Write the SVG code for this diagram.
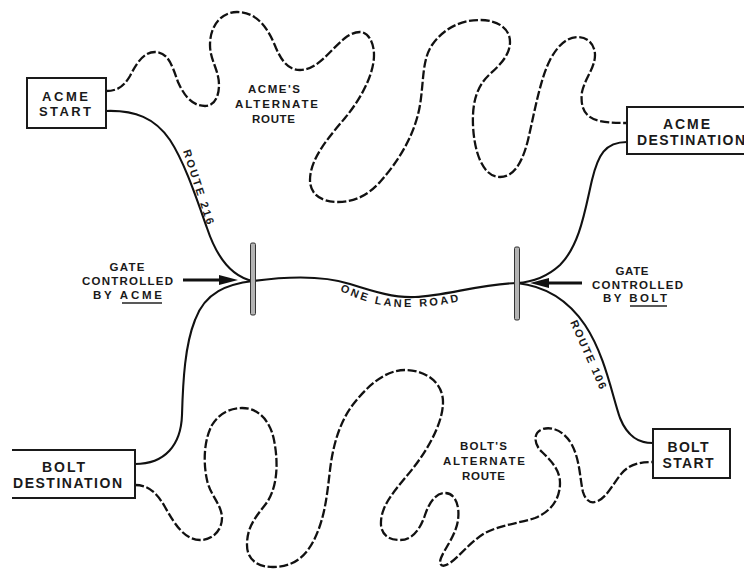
<svg xmlns="http://www.w3.org/2000/svg" width="744" height="569" viewBox="0 0 744 569">
<style>
.bg{fill:#fff}
.box{fill:#fff;stroke:#1a1a1a;stroke-width:2}
.solid{fill:none;stroke:#111;stroke-width:2.1;stroke-linecap:round}
.dash{fill:none;stroke:#111;stroke-width:2.3;stroke-dasharray:9 2.6}
.gate{fill:#b4b4b4;stroke:#333;stroke-width:1}
.arrow{stroke:#111;stroke-width:3}
.head{fill:#111}
.t{font-family:"Liberation Sans",Arial,sans-serif;font-weight:bold;fill:#1a1a1a}
.big{font-size:14px}
.sm{font-size:11.5px}
.rt{font-size:11px}
.ul{stroke:#222;stroke-width:1.6}
</style>
<rect class="bg" x="0" y="0" width="744" height="569"/>

<g id="connectors">
  <!-- Route 216 -->
  <path class="solid" d="M106,111 C135,110 155,118 170,140 C185,163 197,200 207,228 C215,252 228,276 253,281"/>
  <!-- Gate ACME to Bolt destination -->
  <path class="solid" d="M253,281 C228,284 205,292 195,320 C185,345 183,380 182,415 C181,445 165,464 135,464"/>
  <!-- One lane road -->
  <path id="road" class="solid" d="M253,281 C290,276 325,276 350,284 C375,292 395,298 415,297 C445,296 480,284 517,283"/>
  <!-- Gate BOLT to ACME destination -->
  <path class="solid" d="M627,142 C605,142 598,155 592,180 C585,210 580,245 560,265 C548,276 535,282 517,283"/>
  <!-- Route 106 -->
  <path class="solid" d="M517,283 C545,286 568,300 585,325 C605,355 612,395 620,418 C628,438 640,443 653,443"/>
  <!-- ACME alternate route -->
  <path class="dash" d="M106,91 C118,91 124,86 130,76 C138,60 145,52 155,52 C168,52 172,65 178,82 C186,100 195,106 205,106 C214,106 219,97 219,85 C219,70 210,60 210,45 C210,25 222,12 237,12 C257,12 268,28 276,48 C283,64 290,70 300,70 C318,70 330,50 345,38 C352,33 356,32 360,32 C368,32 374,42 374,55 C374,75 360,100 345,118 C330,136 310,158 310,180 C310,195 322,202 338,202 C355,202 368,195 380,182 C398,162 415,135 420,105 C424,80 422,60 432,45 C445,27 462,20 480,20 C497,20 510,28 510,42 C510,55 500,65 490,74 C478,85 472,100 473,125 C474,150 482,177 500,177 C515,177 523,160 528,140 C535,110 540,80 550,60 C558,45 567,37 578,37 C588,37 595,45 595,55 C595,68 585,78 582,92 C580,108 585,118 600,121 C610,123 618,123 627,123"/>
  <!-- BOLT alternate route -->
  <path class="dash" d="M135,485 C150,485 158,495 165,507 C175,525 185,540 200,540 C213,540 222,530 222,518 C222,505 210,495 207,480 C203,462 204,440 212,425 C220,412 232,408 242,408 C258,408 270,420 274,440 C279,465 277,490 265,505 C255,518 247,527 247,545 C247,560 258,567 273,567 C292,567 305,558 314,540 C325,518 327,495 330,470 C333,445 340,420 355,402 C368,386 385,370 405,370 C425,370 443,382 443,402 C443,425 425,455 405,478 C392,494 380,508 381,525 C382,536 390,540 400,540 C412,540 420,530 425,515 C430,500 437,493 445,493 C455,493 460,505 458,520 C456,535 445,548 441,558 C438,566 443,568 450,563 C460,556 470,542 485,533 C500,525 520,523 535,518 C550,512 560,500 560,483 C560,468 548,458 540,450 C534,443 533,432 543,429 C553,426 565,432 572,445 C580,460 580,480 583,492 C586,502 592,504 598,501 C608,496 614,482 622,473 C630,464 640,462 653,462"/>
  <!-- gate arrows -->
  <line class="arrow" x1="183" y1="280" x2="222" y2="280"/>
  <polygon class="head" points="219,275 238,280 219,285"/>
  <line class="arrow" x1="582" y1="283" x2="546" y2="283"/>
  <polygon class="head" points="549,278 530,283 549,288"/>
</g>

<g id="acme-start">
  <rect class="box" x="27" y="78" width="79" height="50"/>
  <text class="t" font-size="13" x="65" y="100.5" text-anchor="middle" textLength="46" lengthAdjust="spacing">ACME</text>
  <text class="t" font-size="13" x="65" y="116" text-anchor="middle" textLength="52" lengthAdjust="spacing">START</text>
</g>

<g id="acme-destination">
  <rect class="box" x="627" y="107" width="130" height="47"/>
  <text class="t big" x="686.5" y="128.5" text-anchor="middle" textLength="47" lengthAdjust="spacing">ACME</text>
  <text class="t big" x="637" y="145" textLength="108" lengthAdjust="spacing">DESTINATION</text>
</g>

<g id="bolt-destination">
  <path class="box" d="M12,450 H135 V498 H12"/>
  <text class="t big" x="63.5" y="471.5" text-anchor="middle" textLength="43" lengthAdjust="spacing">BOLT</text>
  <text class="t big" x="67.5" y="488" text-anchor="middle" textLength="109" lengthAdjust="spacing">DESTINATION</text>
</g>

<g id="bolt-start">
  <rect class="box" x="653" y="429" width="77" height="49"/>
  <text class="t big" x="688" y="451.5" text-anchor="middle" textLength="41" lengthAdjust="spacing">BOLT</text>
  <text class="t big" x="688" y="468" text-anchor="middle" textLength="51" lengthAdjust="spacing">START</text>
</g>

<g id="gate-acme">
  <rect class="gate" x="250.5" y="243" width="5" height="72" rx="1.5"/>
  <text class="t sm" x="127" y="271" text-anchor="middle" textLength="35" lengthAdjust="spacing">GATE</text>
  <text class="t sm" x="127.5" y="285" text-anchor="middle" textLength="91" lengthAdjust="spacing">CONTROLLED</text>
  <text class="t sm" x="127.5" y="299" text-anchor="middle" textLength="69" lengthAdjust="spacing">BY ACME</text>
  <line class="ul" x1="122" y1="303" x2="162" y2="303"/>
</g>

<g id="gate-bolt">
  <rect class="gate" x="514.5" y="247" width="5" height="73" rx="1.5"/>
  <text class="t sm" x="632" y="275" text-anchor="middle" textLength="33" lengthAdjust="spacing">GATE</text>
  <text class="t sm" x="637.5" y="289" text-anchor="middle" textLength="91" lengthAdjust="spacing">CONTROLLED</text>
  <text class="t sm" x="635" y="302" text-anchor="middle" textLength="64" lengthAdjust="spacing">BY BOLT</text>
  <line class="ul" x1="630" y1="306" x2="667" y2="306"/>
</g>

<g id="acme-alternate-label">
  <text class="t sm" x="274" y="93" text-anchor="middle" textLength="52" lengthAdjust="spacing">ACME'S</text>
  <text class="t sm" x="276.5" y="108" text-anchor="middle" textLength="83" lengthAdjust="spacing">ALTERNATE</text>
  <text class="t sm" x="273.5" y="123" text-anchor="middle" textLength="43" lengthAdjust="spacing">ROUTE</text>
</g>

<g id="bolt-alternate-label">
  <text class="t sm" x="483.5" y="450" text-anchor="middle" textLength="47" lengthAdjust="spacing">BOLT'S</text>
  <text class="t sm" x="484" y="465" text-anchor="middle" textLength="82" lengthAdjust="spacing">ALTERNATE</text>
  <text class="t sm" x="483.5" y="480" text-anchor="middle" textLength="43" lengthAdjust="spacing">ROUTE</text>
</g>

<g id="route-labels">
  <text class="t rt" transform="translate(195,188) rotate(72)" text-anchor="middle" textLength="78" lengthAdjust="spacing">ROUTE 216</text>
  <text class="t rt" transform="translate(585,356) rotate(66)" text-anchor="middle" textLength="74" lengthAdjust="spacing">ROUTE 106</text>
  <path id="roadText" d="M338,290 C355,298 375,306 400,307 C425,308 450,304 475,298" fill="none"/>
  <text class="t rt"><textPath href="#roadText" startOffset="2" textLength="122" lengthAdjust="spacing">ONE LANE ROAD</textPath></text>
</g>
</svg>
